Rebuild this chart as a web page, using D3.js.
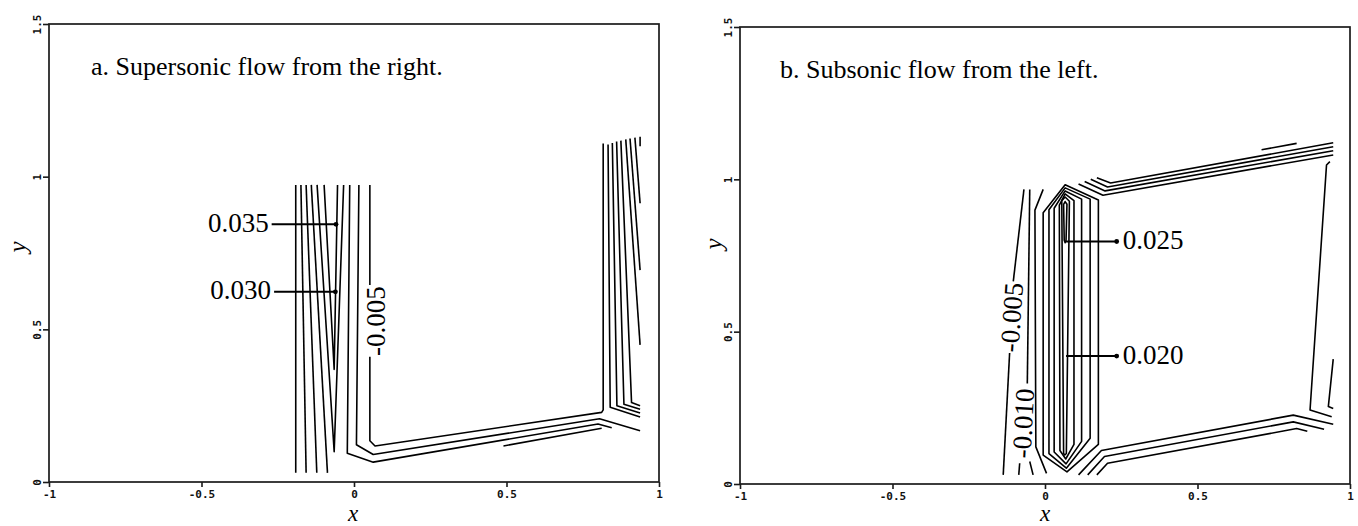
<!DOCTYPE html>
<html>
<head>
<meta charset="utf-8">
<script src="https://cdn.jsdelivr.net/npm/d3@7"></script>
<style>
  body { margin: 0; background: #fff; }
  svg { display: block; }
</style>
</head>
<body>
<svg id="chart" width="1358" height="526"></svg>
<script>
// ---------- axis ticks and titles ----------
const xTicks = [-1, -0.5, 0, 0.5, 1];
const yTicks = [0, 0.5, 1, 1.5];
const panelTitles = ["a. Supersonic flow from the right.", "b. Subsonic flow from the left."];

// ---------- panel a: contour polylines (x, y) ----------
const a_fan1 = [[-0.191, 0.973], [-0.191, 0.030]];
const a_fan2 = [[-0.174, 0.973], [-0.157, 0.030]];
const a_fan3 = [[-0.157, 0.973], [-0.122, 0.030]];
const a_fan4 = [[-0.140, 0.973], [-0.087, 0.030]];
const a_c030 = [[-0.121, 0.973], [-0.065, 0.099], [-0.034, 0.973]];
const a_c035 = [[-0.098, 0.973], [-0.065, 0.369], [-0.054, 0.973]];
const a_bend1 = [[-0.014, 0.973], [-0.022, 0.094], [0.063, 0.065], [0.800, 0.190], [0.845, 0.178]];
const a_bend2 = [[0.016, 0.973], [0.008, 0.122], [0.063, 0.090], [0.805, 0.207], [0.938, 0.168]];
const a_m005top = [[0.052, 0.973], [0.052, 0.645]];
const a_m005 = [[0.052, 0.410], [0.052, 0.135], [0.069, 0.118], [0.812, 0.228], [0.817, 0.236], [0.817, 1.109]];
const a_short = [[0.490, 0.118], [0.812, 0.176]];
const a_r2 = [[0.833, 1.105], [0.840, 0.245], [0.938, 0.213]];
const a_r3 = [[0.847, 1.110], [0.862, 0.250], [0.938, 0.226]];
const a_r4 = [[0.861, 1.115], [0.885, 0.255], [0.938, 0.238]];
const a_r5 = [[0.875, 1.118], [0.910, 0.260], [0.938, 0.250]];
const a_r6 = [[0.891, 1.122], [0.938, 0.449]];
const a_r7 = [[0.905, 1.125], [0.938, 0.694]];
const a_r8 = [[0.921, 1.128], [0.938, 0.913]];
const a_r9 = [[0.938, 1.131], [0.938, 1.100]];

// value labels with leader lines (panel a: dot on the contour)
const a_leaders = [
  { text: "0.035", contour: [-0.059, 0.844], end: [-0.270, 0.844] },
  { text: "0.030", contour: [-0.061, 0.623], end: [-0.262, 0.623] }
];
const a_inline = [{ text: "-0.005", at: [0.072, 0.527], angle: -90 }];

// ---------- panel b: contour polylines (x, y) ----------
const b_m005a = [[-0.069, 0.967], [-0.104, 0.665]];
const b_m005b = [[-0.116, 0.430], [-0.137, 0.030]];
const b_m010a = [[-0.050, 0.967], [-0.058, 0.330]];
const b_m010b = [[-0.083, 0.068], [-0.086, 0.030]];
const b_m010c = [[-0.050, 0.074], [-0.039, 0.030]];
const b_edge = [[-0.006, 0.967], [-0.033, 0.899], [-0.030, 0.122], [0.005, 0.035]];
const b_L025 = [[0.061, 0.918], [0.066, 0.927], [0.072, 0.918], [0.069, 0.800], [0.066, 0.792], [0.063, 0.800]];
const b_L020 = [[0.055, 0.930], [0.066, 0.942], [0.080, 0.928], [0.070, 0.100], [0.065, 0.095], [0.061, 0.100]];
const b_L015 = [[0.047, 0.915], [0.066, 0.952], [0.095, 0.930], [0.095, 0.130], [0.068, 0.082], [0.049, 0.110]];
const b_L010 = [[0.030, 0.905], [0.066, 0.962], [0.120, 0.935], [0.120, 0.140], [0.069, 0.066], [0.030, 0.105]];
const b_L005 = [[0.013, 0.900], [0.066, 0.972], [0.148, 0.935], [0.148, 0.150], [0.070, 0.052], [0.013, 0.100]];
const b_L000 = [[-0.006, 0.890], [0.066, 0.982], [0.175, 0.932], [0.175, 0.130], [0.072, 0.040], [-0.006, 0.095]];
const b_T1 = [[0.170, 1.005], [0.215, 0.988], [0.945, 1.120]];
const b_T2 = [[0.150, 1.000], [0.205, 0.975], [0.945, 1.107]];
const b_T3 = [[0.130, 0.993], [0.197, 0.962], [0.945, 1.094]];
const b_T4 = [[0.110, 0.985], [0.190, 0.948], [0.945, 1.080]];
const b_Tshort = [[0.710, 1.097], [0.825, 1.118]];
const b_B1 = [[0.110, 0.030], [0.185, 0.110], [0.814, 0.226], [0.945, 0.196]];
const b_B2 = [[0.140, 0.030], [0.195, 0.090], [0.814, 0.204], [0.915, 0.180]];
const b_B3 = [[0.170, 0.030], [0.205, 0.068], [0.825, 0.182], [0.860, 0.173]];
const b_right = [[0.934, 1.058], [0.923, 1.047], [0.869, 0.243], [0.940, 0.221]];
const b_stub = [[0.945, 0.410], [0.929, 0.254], [0.945, 0.248]];

// value labels with leader lines (panel b: dot beside the text)
const b_leaders = [
  { text: "0.025", contour: [0.069, 0.796], end: [0.235, 0.796] },
  { text: "0.020", contour: [0.069, 0.420], end: [0.235, 0.420] }
];
const b_inline = [
  { text: "-0.005", at: [-0.109, 0.547], angle: -86 },
  { text: "-0.010", at: [-0.071, 0.199], angle: -87 }
];

// ---------- layout ----------
const panels = [
  {
    left: 49, right: 659, top: 24, bottom: 482,
    title: panelTitles[0], titleX: 91, titleY: 75,
    xTitle: [353, 521], yTitle: [17, 247],
    open: [a_fan1, a_fan2, a_fan3, a_fan4, a_c030, a_c035, a_bend1, a_bend2,
           a_m005top, a_m005, a_short, a_r2, a_r3, a_r4, a_r5, a_r6, a_r7, a_r8, a_r9],
    closed: [],
    leaders: a_leaders, leaderSide: "left", inline: a_inline
  },
  {
    left: 740, right: 1350, top: 27, bottom: 484,
    title: panelTitles[1], titleX: 780, titleY: 78,
    xTitle: [1045, 521], yTitle: [713, 244],
    open: [b_m005a, b_m005b, b_m010a, b_m010b, b_m010c, b_edge,
           b_T1, b_T2, b_T3, b_T4, b_Tshort, b_B1, b_B2, b_B3, b_right, b_stub],
    closed: [b_L025, b_L020, b_L015, b_L010, b_L005, b_L000],
    leaders: b_leaders, leaderSide: "right", inline: b_inline
  }
];

const svg = d3.select("#chart");
const serif = "'Liberation Serif', 'Times New Roman', serif";
const tickFont = "'DejaVu Sans Mono', monospace";
const ink = "#000";

panels.forEach(p => {
  const x = d3.scaleLinear().domain([-1, 1]).range([p.left, p.right]);
  const y = d3.scaleLinear().domain([0, 1.5]).range([p.bottom, p.top]);
  const g = svg.append("g");

  // frame
  g.append("rect")
    .attr("x", p.left).attr("y", p.top)
    .attr("width", p.right - p.left).attr("height", p.bottom - p.top)
    .attr("fill", "none").attr("stroke", "#1a1a1a").attr("stroke-width", 1.7);

  // x axis
  const gx = g.append("g").attr("transform", `translate(0,${p.bottom})`)
    .call(d3.axisBottom(x).tickValues(xTicks).tickSize(5).tickFormat(d => String(d)));
  gx.select(".domain").remove();
  gx.selectAll(".tick line").attr("stroke", "#1a1a1a").attr("stroke-width", 1.6);
  gx.selectAll(".tick text")
    .attr("y", 16).attr("dy", null)
    .attr("font-family", tickFont).attr("font-weight", "bold").attr("font-size", 11)
    .attr("fill", "#111");

  // y axis (rotated tick labels)
  const gy = g.append("g").attr("transform", `translate(${p.left},0)`)
    .call(d3.axisLeft(y).tickValues(yTicks).tickSize(6).tickFormat(d => String(d)));
  gy.select(".domain").remove();
  gy.selectAll(".tick line").attr("stroke", "#1a1a1a").attr("stroke-width", 1.6);
  gy.selectAll(".tick text")
    .attr("x", null).attr("dy", null)
    .attr("text-anchor", "middle")
    .attr("transform", "translate(-8,0) rotate(-90)")
    .attr("font-family", tickFont).attr("font-weight", "bold").attr("font-size", 11)
    .attr("fill", "#111");

  // axis titles
  g.append("text")
    .attr("x", p.xTitle[0]).attr("y", p.xTitle[1])
    .attr("text-anchor", "middle")
    .attr("font-family", serif).attr("font-style", "italic").attr("font-size", 23)
    .text("x");
  g.append("text")
    .attr("transform", `translate(${p.yTitle[0]},${p.yTitle[1]}) rotate(-90)`)
    .attr("text-anchor", "middle").attr("dominant-baseline", "central")
    .attr("font-family", serif).attr("font-style", "italic").attr("font-size", 25)
    .text("y");

  // panel title
  g.append("text")
    .attr("x", p.titleX).attr("y", p.titleY)
    .attr("font-family", serif).attr("font-size", 26)
    .text(p.title);

  // contours
  const line = d3.line().x(d => x(d[0])).y(d => y(d[1]));
  const loop = d3.line().x(d => x(d[0])).y(d => y(d[1])).curve(d3.curveLinearClosed);
  g.selectAll("path.open").data(p.open).join("path")
    .attr("class", "open").attr("d", line)
    .attr("fill", "none").attr("stroke", ink).attr("stroke-width", 1.6)
    .attr("stroke-linejoin", "round");
  g.selectAll("path.closed").data(p.closed).join("path")
    .attr("class", "closed").attr("d", loop)
    .attr("fill", "none").attr("stroke", ink).attr("stroke-width", 1.6)
    .attr("stroke-linejoin", "round");

  // leader lines with dots and value labels
  p.leaders.forEach(l => {
    const x0 = x(l.contour[0]), x1 = x(l.end[0]), yy = y(l.contour[1]);
    g.append("line").attr("x1", x0).attr("x2", x1).attr("y1", yy).attr("y2", yy)
      .attr("stroke", ink).attr("stroke-width", 2);
    const dotX = p.leaderSide === "left" ? x0 : x1;
    g.append("circle").attr("cx", dotX).attr("cy", yy).attr("r", 2.4).attr("fill", ink);
    g.append("text")
      .attr("x", p.leaderSide === "left" ? x1 - 3 : x1 + 6)
      .attr("y", yy + 7.5)
      .attr("text-anchor", p.leaderSide === "left" ? "end" : "start")
      .attr("font-family", serif).attr("font-size", 27)
      .text(l.text);
  });

  // labels written along contours
  p.inline.forEach(l => {
    g.append("text")
      .attr("transform", `translate(${x(l.at[0])},${y(l.at[1])}) rotate(${l.angle})`)
      .attr("text-anchor", "middle").attr("dominant-baseline", "central")
      .attr("font-family", serif).attr("font-size", 27)
      .text(l.text);
  });
});
</script>
</body>
</html>
